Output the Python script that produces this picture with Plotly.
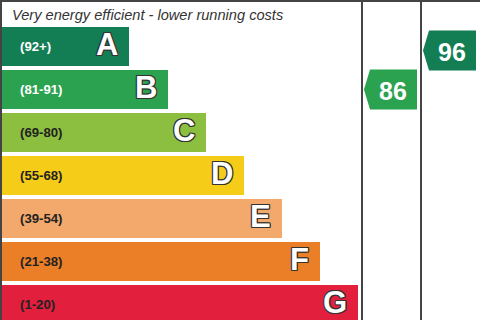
import plotly.graph_objects as go

# ---- data ----
bands = ["A", "B", "C", "D", "E", "F", "G"]
ranges = ["(92+)", "(81-91)", "(69-80)", "(55-68)", "(39-54)", "(21-38)", "(1-20)"]
band_lengths = [129, 168, 206, 244, 282, 320, 358]
band_colors = ["#137e54", "#2ba24f", "#8cbe3f", "#f5cc18", "#f3a96b", "#eb7f27", "#e21f3d"]
range_text_colors = ["#ffffff", "#ffffff", "#222222", "#222222", "#222222", "#222222", "#222222"]
header = "Very energy efficient - lower running costs"
current_score = 86
potential_score = 96
band_floor = [92, 81, 69, 55, 39, 21, 1]

def band_of(score):
    for i, lo in enumerate(band_floor):
        if score >= lo:
            return i
    return len(bands) - 1

# ---- layout helpers (pixel-like axes) ----
W, H = 480, 320
top0, pitch, bar_h = 27, 43, 39
centers = [top0 + bar_h / 2 + i * pitch for i in range(len(bands))]

fig = go.Figure()
fig.add_trace(go.Bar(
    orientation="h", y=centers, x=band_lengths, base=0, width=bar_h,
    marker=dict(color=band_colors, line=dict(width=0)),
    hoverinfo="skip", showlegend=False,
))

annotations = []
outline = "-1px -1px 0 #333, 1px -1px 0 #333, -1px 1px 0 #333, 1px 1px 0 #333, 0 1px 0 #333, 0 -1px 0 #333, 1px 0 0 #333, -1px 0 0 #333"
for i, b in enumerate(bands):
    annotations.append(dict(x=18, y=centers[i], text=ranges[i], showarrow=False,
                            xanchor="left", yanchor="middle",
                            font=dict(family="Liberation Sans, Arial", size=13.2,
                                      color=range_text_colors[i], weight="bold")))
    annotations.append(dict(x=band_lengths[i] - 9, y=centers[i] - 2, text=b, showarrow=False,
                            xanchor="right", yanchor="middle",
                            font=dict(family="Liberation Sans, Arial", size=31,
                                      color="#ffffff", weight="bold", shadow=outline)))

annotations.append(dict(x=10, y=15, text=header, showarrow=False, xanchor="left", yanchor="middle",
                        font=dict(family="Liberation Sans, Arial", size=14.6, color="#333333",
                                  style="italic")))

# rating arrows
cols = [(362, 421, current_score, 0), (421, 480, potential_score, 4)]
for left, right, score, dy in cols:
    i = band_of(score)
    cy = centers[i] + dy
    half = 20
    tip, sh, rt = left + 2, left + 8, right - 4
    xs = [tip, sh, rt, rt, sh, tip]
    ys = [cy, cy - half, cy - half, cy + half, cy + half, cy]
    fig.add_trace(go.Scatter(x=xs, y=ys, fill="toself", fillcolor=band_colors[i],
                             line=dict(width=0), mode="lines", hoverinfo="skip", showlegend=False))
    annotations.append(dict(x=(sh + rt) / 2 - 1, y=cy + 1, text=str(score), showarrow=False,
                            xanchor="center", yanchor="middle",
                            font=dict(family="Liberation Sans, Arial", size=25, color="#ffffff",
                                      weight="bold")))

shapes = [
    dict(type="line", x0=0, x1=W, y0=1, y1=1, line=dict(color="#444", width=2)),
    dict(type="line", x0=1, x1=1, y0=0, y1=H, line=dict(color="#444", width=2)),
    dict(type="line", x0=362, x1=362, y0=0, y1=H, line=dict(color="#444", width=2)),
    dict(type="line", x0=421, x1=421, y0=0, y1=H, line=dict(color="#444", width=2)),
]

fig.update_layout(
    width=W, height=H, margin=dict(l=0, r=0, t=0, b=0),
    paper_bgcolor="#ffffff", plot_bgcolor="#ffffff",
    xaxis=dict(range=[0, W], visible=False, fixedrange=True),
    yaxis=dict(range=[H, 0], visible=False, fixedrange=True),
    bargap=0, annotations=annotations, shapes=shapes,
)
fig.write_html("out.html")
